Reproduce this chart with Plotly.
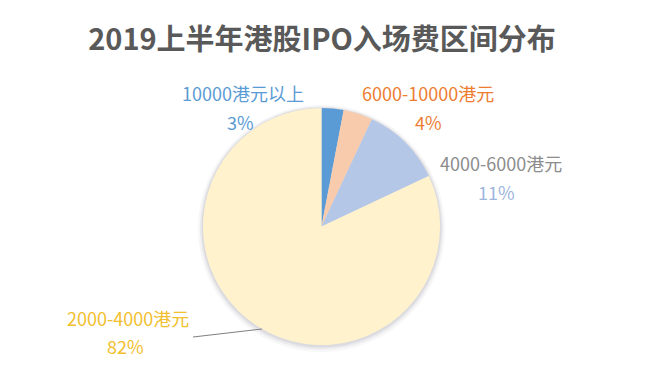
import plotly.graph_objects as go

title = "2019上半年港股IPO入场费区间分布"
categories = ["10000港元以上", "6000-10000港元", "4000-6000港元", "2000-4000港元"]
values = [3, 4, 11, 82]
slice_colors = ["#5B9BD5", "#F8CBAD", "#B4C7E7", "#FFF2CC"]
name_colors = ["#5B9BD5", "#ED7D31", "#8C8C8C", "#F2C02E"]
pct_colors = ["#5B9BD5", "#ED7D31", "#9DB5DE", "#F2C02E"]

W, H = 645, 385
cx, cy, r = 321.5, 226.5, 118.5

def dom(cx_, cy_, r_):
    return dict(x=[(cx_ - r_) / W, (cx_ + r_) / W], y=[1 - (cy_ + r_) / H, 1 - (cy_ - r_) / H])

fig = go.Figure()
# soft shadow halo
for dr, dy, alpha in [(5, 2, 0.05), (3, 1.5, 0.07), (1.5, 1, 0.10)]:
    fig.add_trace(go.Pie(values=[1], labels=["shadow"], sort=False, textinfo="none", hoverinfo="skip",
                         showlegend=False, marker=dict(colors=[f"rgba(90,90,110,{alpha})"], line=dict(width=0)),
                         domain=dom(cx, cy + dy, r + dr)))
fig.add_trace(go.Pie(
    labels=categories, values=values, sort=False, direction="clockwise", rotation=0,
    marker=dict(colors=slice_colors, line=dict(color="white", width=0)),
    textinfo="none", hoverinfo="label+percent", showlegend=False,
    domain=dom(cx, cy, r),
))

label_pos = [(243, 93, 240, 122), (428, 93, 428, 122), (501, 163, 497, 192), (128, 318, 125, 346)]
font = "Noto Sans CJK SC, Noto Sans, sans-serif"
anns = []
for i, (nx, ny, px, py) in enumerate(label_pos):
    anns.append(dict(x=nx/W, y=1-ny/H, xref="paper", yref="paper", text=categories[i],
                     xanchor="center", yanchor="middle",
                     showarrow=False, font=dict(family=font, size=18, color=name_colors[i])))
    anns.append(dict(x=px/W, y=1-py/H, xref="paper", yref="paper", text=f"{values[i]}%",
                     xanchor="center", yanchor="middle",
                     showarrow=False, font=dict(family=font, size=18, color=pct_colors[i])))

fig.update_layout(
    width=W, height=H, margin=dict(l=0, r=0, t=0, b=0),
    paper_bgcolor="white", plot_bgcolor="white",
    title=dict(text=f"<b>{title}</b>", x=322/W, xanchor="center", y=1-40/H, yanchor="middle",
               font=dict(family=font, size=29, color="#595959")),
    annotations=anns,
    shapes=[dict(type="line", xref="paper", yref="paper", x0=193/W, y0=1-337/H, x1=262/W, y1=1-329/H,
                 line=dict(color="#7F7F7F", width=1))],
)
fig.write_html("out.html", config={"displayModeBar": False},
               post_script="document.body.style.margin='0';")
